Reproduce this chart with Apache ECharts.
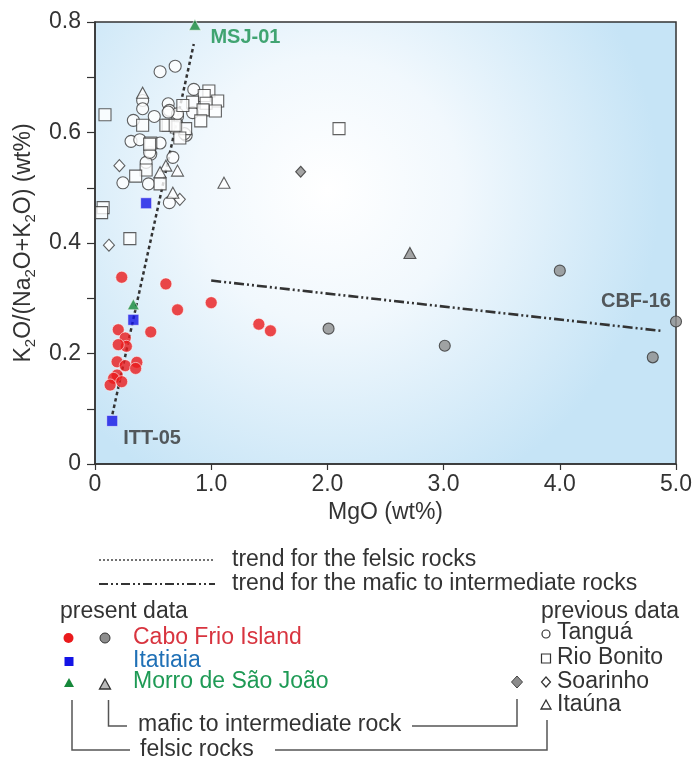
<!DOCTYPE html>
<html><head><meta charset="utf-8">
<script src="https://cdn.jsdelivr.net/npm/echarts@6/dist/echarts.min.js"></script>
<style>html,body{margin:0;padding:0;background:#fff}#c{width:695px;height:760px}</style>
</head><body><div id="c"></div>
<script>
// ---- data (MgO wt%, K2O/(Na2O+K2O)) ----
const caboFrioFelsic = [[0.23,0.338],[0.61,0.326],[0.71,0.279],[1.00,0.292],[1.41,0.253],[1.51,0.241],[0.48,0.239],[0.20,0.243],[0.26,0.228],[0.27,0.213],[0.20,0.216],[0.19,0.185],[0.26,0.178],[0.36,0.184],[0.35,0.173],[0.19,0.161],[0.16,0.155],[0.23,0.149],[0.13,0.143]];
const itatiaiaFelsic = [[0.148,0.078],[0.33,0.261],[0.44,0.472]];
const msjFelsic = [[0.86,0.795],[0.33,0.289]];
const caboFrioMafic = [[2.01,0.245],[3.01,0.214],[4.00,0.350],[4.80,0.193],[5.00,0.258]];
const msjMafic = [[2.71,0.382]];
const soarinhoMafic = [[1.77,0.529]];
const tangua = [[0.56,0.71],[0.69,0.72],[0.41,0.658],[0.41,0.643],[0.63,0.652],[0.51,0.629],[0.64,0.64],[0.71,0.629],[0.85,0.678],[0.33,0.622],[0.785,0.595],[0.31,0.584],[0.385,0.587],[0.56,0.581],[0.48,0.561],[0.67,0.555],[0.44,0.546],[0.24,0.509],[0.46,0.507],[0.64,0.473],[0.84,0.636],[0.71,0.634],[0.63,0.637],[0.47,0.564],[0.77,0.598]];
const rioBonito = [[0.086,0.632],[0.41,0.613],[0.63,0.613],[0.70,0.61],[0.78,0.607],[0.73,0.59],[0.48,0.581],[0.44,0.532],[0.35,0.521],[0.56,0.507],[0.98,0.675],[0.94,0.667],[1.056,0.657],[0.84,0.655],[0.956,0.653],[0.93,0.641],[1.036,0.639],[0.91,0.621],[0.756,0.649],[0.61,0.613],[0.69,0.613],[0.47,0.579],[0.07,0.464],[0.057,0.455],[0.30,0.408],[2.10,0.607]];
const soarinho = [[0.21,0.54],[0.73,0.479],[0.12,0.396]];
const itauna = [[0.41,0.672],[0.61,0.54],[0.56,0.528],[0.71,0.531],[0.67,0.491],[1.11,0.509]];
const felsicTrend = [[0.15,0.09],[0.85,0.76]];
const maficTrend = [[1.00,0.332],[4.87,0.241]];
const xTicks = [0,1,2,3,4,5];
const yTickLabels = ['0','0.2','0.4','0.6','0.8'];

const FONT = 'Liberation Sans, Arial, sans-serif';
const DARK = '#333';
const FS = 23;
const F = FS + 'px ' + FONT;

function withLabel(arr, idx, text, position, offset, color){
  return arr.map((p,i)=> i===idx ? {value:p, label:{show:true, formatter:text, position:position, offset:offset,
     color:color, fontWeight:'bold', fontSize:20, fontFamily:FONT}} : p);
}

const openStyle = {color:'#fff', borderColor:'#3a3a3a', borderWidth:1.1};
const grayStyle = {color:'#8d8d8d', borderColor:'#333', borderWidth:1.1};

const chart = echarts.init(document.getElementById('c'));
const option = {
  animation:false,
  backgroundColor:'#fff',
  grid:{left:95, right:16, top:22, bottom:296, show:true, borderColor:DARK, borderWidth:1.5,
    backgroundColor:{type:'radial', x:0.4, y:0.38, r:0.75,
      colorStops:[{offset:0,color:'#ffffff'},{offset:0.4,color:'#f1f8fd'},{offset:1,color:'#c6e4f6'}]}},
  xAxis:{type:'value', min:0, max:5, interval:1,
    axisLine:{show:true, onZero:false, lineStyle:{color:DARK, width:1.5}},
    axisTick:{show:true, inside:false, length:6, lineStyle:{color:DARK, width:1.2}},
    splitLine:{show:false},
    axisLabel:{color:DARK, fontSize:FS, fontFamily:FONT, margin:9,
      formatter:v=> xTicks.indexOf(v)===0 ? '0' : v.toFixed(1)},
    name:'MgO (wt%)', nameLocation:'middle', nameGap:37,
    nameTextStyle:{color:DARK, fontSize:FS, fontFamily:FONT}},
  yAxis:{type:'value', min:0, max:0.8, interval:0.1,
    axisLine:{show:true, onZero:false, lineStyle:{color:DARK, width:1.5}},
    axisTick:{show:true, inside:false, length:8, lineStyle:{color:DARK, width:1.2}},
    splitLine:{show:false},
    axisLabel:{color:DARK, fontSize:FS, fontFamily:FONT, margin:14, interval:1,
      formatter:v=>{const k=Math.round(v*10); return k%2===0 ? yTickLabels[k/2] : '';}},
    name:'{n|K}{s|2}{n|O/(Na}{s|2}{n|O+K}{s|2}{n|O) (wt%)}', nameLocation:'middle', nameGap:47,
    nameRotate:90,
    nameTextStyle:{color:DARK, fontFamily:FONT,
      rich:{n:{fontSize:FS, lineHeight:28, color:DARK, fontFamily:FONT},
            s:{fontSize:15, lineHeight:15, verticalAlign:'bottom', color:DARK, fontFamily:FONT}}}},
  series:[
    {type:'line', data:felsicTrend, symbol:'none', z:1, silent:true,
      lineStyle:{color:'#333', width:2.5, type:[3.5,3]}},
    {type:'line', data:maficTrend, symbol:'none', z:1, silent:true,
      lineStyle:{color:'#333', width:2.6, type:[10,3,2,3,2,3]}},
    {name:'Tanguá', type:'scatter', data:tangua, symbol:'circle', symbolSize:12, itemStyle:openStyle, z:3},
    {name:'Rio Bonito', type:'scatter', data:rioBonito, symbol:'rect', symbolSize:12, itemStyle:openStyle, z:3},
    {name:'Soarinho', type:'scatter', data:soarinho, symbol:'diamond', symbolSize:[11,12], itemStyle:openStyle, z:3},
    {name:'Itaúna', type:'scatter', data:itauna, symbol:'triangle', symbolSize:[12,11], itemStyle:openStyle, z:3},
    {name:'Soarinho mafic', type:'scatter', data:soarinhoMafic, symbol:'diamond', symbolSize:[10,11], itemStyle:grayStyle, z:4},
    {name:'MSJ mafic', type:'scatter', data:msjMafic, symbol:'triangle', symbolSize:[12,11], itemStyle:grayStyle, z:4},
    {name:'Cabo Frio mafic', type:'scatter', data:withLabel(caboFrioMafic, 4, 'CBF-16', 'left', [6,-20], DARK),
      symbol:'circle', symbolSize:11, itemStyle:grayStyle, z:4},
    {name:'Cabo Frio felsic', type:'scatter', data:caboFrioFelsic, symbol:'circle', symbolSize:12,
      itemStyle:{color:'#ea1a1c', borderColor:'rgba(255,255,255,0.7)', borderWidth:1}, z:5},
    {name:'Itatiaia', type:'scatter', data:withLabel(itatiaiaFelsic, 0, 'ITT-05', 'right', [0,18], DARK),
      symbol:'rect', symbolSize:11, itemStyle:{color:'#1414e6', borderColor:'rgba(255,255,255,0.7)', borderWidth:1}, z:5},
    {name:'MSJ', type:'scatter', data:withLabel(msjFelsic, 0, 'MSJ-01', 'right', [4,13], '#16904f'),
      symbol:'triangle', symbolSize:[12,11], itemStyle:{color:'#16883a', borderColor:'rgba(255,255,255,0.7)', borderWidth:1}, z:5}
  ],
  graphic:[
    // trend legend
    {type:'line', shape:{x1:99,y1:560,x2:215,y2:560}, style:{stroke:'#444', lineWidth:1.5, lineDash:[2,2]}},
    {type:'text', x:232, y:560, style:{text:'trend for the felsic rocks', font:F, fill:DARK, verticalAlign:'middle'}},
    {type:'line', shape:{x1:99,y1:584,x2:215,y2:584}, style:{stroke:'#333', lineWidth:2, lineDash:[9,3,2,3,2,3]}},
    {type:'text', x:232, y:584, style:{text:'trend for the mafic to intermediate rocks', font:F, fill:DARK, verticalAlign:'middle'}},
    // present data
    {type:'text', x:60, y:612, style:{text:'present data', font:F, fill:DARK, verticalAlign:'middle'}},
    {type:'circle', shape:{cx:68.5, cy:638, r:5}, style:{fill:'#ea1a1c'}},
    {type:'circle', shape:{cx:105, cy:638, r:5}, style:{fill:'#8d8d8d', stroke:'#333', lineWidth:1}},
    {type:'text', x:133, y:638, style:{text:'Cabo Frio Island', font:F, fill:'#d8343f', verticalAlign:'middle'}},
    {type:'rect', shape:{x:64.5, y:657, width:9, height:9}, style:{fill:'#1414e6'}},
    {type:'text', x:133, y:661, style:{text:'Itatiaia', font:F, fill:'#1f70b6', verticalAlign:'middle'}},
    {type:'polygon', shape:{points:[[69,678],[64,687],[74,687]]}, style:{fill:'#16883a'}},
    {type:'polygon', shape:{points:[[105,679],[99.5,689],[110.5,689]]}, style:{fill:'#bbb', stroke:'#333', lineWidth:1.3}},
    {type:'text', x:133, y:682, style:{text:'Morro de São João', font:F, fill:'#1e9a55', verticalAlign:'middle'}},
    {type:'polygon', shape:{points:[[517,676],[522.5,682],[517,688],[511.5,682]]}, style:{fill:'#8d8d8d', stroke:'#444', lineWidth:1}},
    // previous data
    {type:'text', x:541, y:612, style:{text:'previous data', font:F, fill:DARK, verticalAlign:'middle'}},
    {type:'circle', shape:{cx:546, cy:634, r:4}, style:{fill:'#fff', stroke:'#333', lineWidth:1.2}},
    {type:'text', x:557, y:633, style:{text:'Tanguá', font:F, fill:DARK, verticalAlign:'middle'}},
    {type:'rect', shape:{x:541.5, y:654, width:9, height:9}, style:{fill:'#fff', stroke:'#333', lineWidth:1.2}},
    {type:'text', x:557, y:658, style:{text:'Rio Bonito', font:F, fill:DARK, verticalAlign:'middle'}},
    {type:'polygon', shape:{points:[[546,677],[550.5,682],[546,687],[541.5,682]]}, style:{fill:'#fff', stroke:'#333', lineWidth:1.2}},
    {type:'text', x:557, y:682, style:{text:'Soarinho', font:F, fill:DARK, verticalAlign:'middle'}},
    {type:'polygon', shape:{points:[[546,700],[541,709],[551,709]]}, style:{fill:'#fff', stroke:'#333', lineWidth:1.3}},
    {type:'text', x:557, y:705, style:{text:'Itaúna', font:F, fill:DARK, verticalAlign:'middle'}},
    // brackets
    {type:'polyline', shape:{points:[[108.5,700],[108.5,726],[127,726]]}, style:{stroke:'#555', lineWidth:1.5, fill:null}},
    {type:'text', x:138, y:725, style:{text:'mafic to intermediate rock', font:F, fill:DARK, verticalAlign:'middle'}},
    {type:'polyline', shape:{points:[[412,726],[517,726],[517,699]]}, style:{stroke:'#555', lineWidth:1.5, fill:null}},
    {type:'polyline', shape:{points:[[72,700],[72,750],[130,750]]}, style:{stroke:'#555', lineWidth:1.5, fill:null}},
    {type:'text', x:140, y:750, style:{text:'felsic rocks', font:F, fill:DARK, verticalAlign:'middle'}},
    {type:'polyline', shape:{points:[[275,750],[547,750],[547,720]]}, style:{stroke:'#555', lineWidth:1.5, fill:null}}
  ]
};
chart.setOption(option);
</script></body></html>
